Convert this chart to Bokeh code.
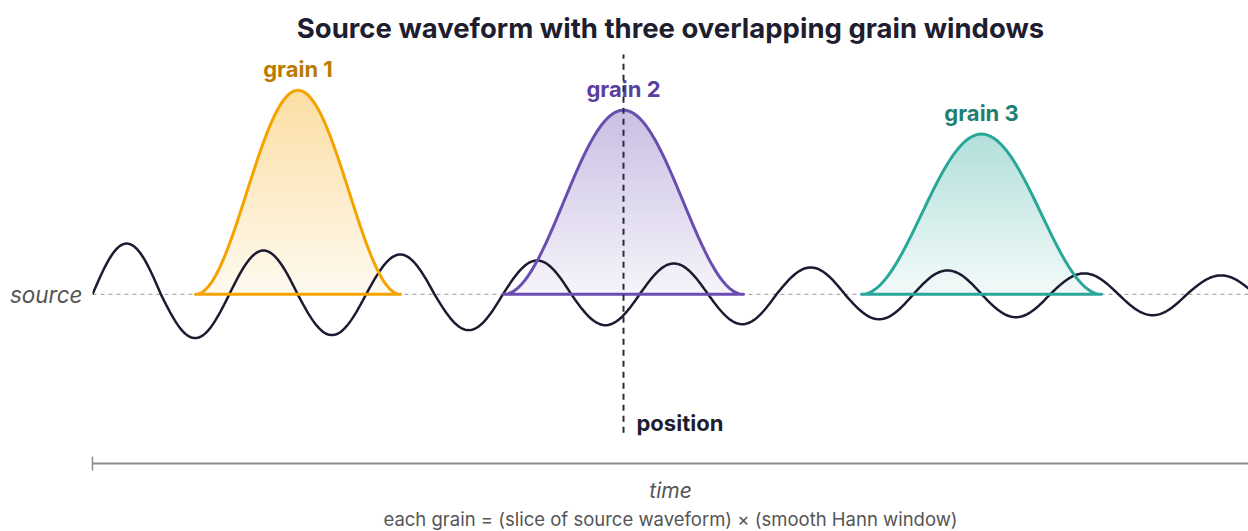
import numpy as np
from bokeh.plotting import figure
from bokeh.models import Title, LinearAxis, FixedTicker, Range1d
from bokeh.core.properties import value
from bokeh.embed import file_html
from bokeh.resources import INLINE

# ---- data (time axis in px-like units from the axis origin, amplitude above the source baseline) ----
half_period = 68.4
source_half_amplitudes = [51, 44, 44, 41, 40, 36, 34, 31, 31, 30, 27, 25, 24, 23, 21, 21, 19, 18]
grain_names = ["grain 1", "grain 2", "grain 3"]
grain_starts = [103, 411, 769]
grain_widths = [205, 240, 240]
grain_heights = [205, 185, 161]
grain_line_colors = ["#F5A300", "#6A4DB0", "#2AA79B"]
grain_label_colors = ["#B87B00", "#5B3F9E", "#1F7F75"]
grain_fill_rgb = [(245, 163, 0), (106, 77, 176), (42, 167, 155)]
position_x = 531
position_span = [-139, 241]
x_end = 1156

FONT = "Inter"
p = figure(width=1248, height=531, x_range=Range1d(0, x_end), y_range=Range1d(-170, 243),
           output_backend="svg", toolbar_location=None,
           x_axis_location=None, y_axis_location=None,
           min_border_left=92, min_border_right=0, min_border_top=50, min_border_bottom=68)
p.grid.visible = False
p.outline_line_color = None
p.background_fill_color = "white"
p.border_fill_color = "white"

p.title.text = "Source waveform with three overlapping grain windows"
p.title.align = "center"
p.title.text_font = FONT
p.title.text_font_size = "27.5px"
p.title.text_font_style = "bold"
p.title.text_color = "#1E1E30"
p.title.standoff = 16

# x axis (time)
ax = LinearAxis(ticker=FixedTicker(ticks=[0]), axis_label="time",
                axis_label_text_font=FONT, axis_label_text_font_style="italic",
                axis_label_text_font_size="21px", axis_label_text_color="#555555",
                major_label_overrides={0: ""}, major_label_text_color=None,
                major_tick_in=7, major_tick_out=7,
                axis_line_color="#8C8C8C", axis_line_width=2,
                major_tick_line_color="#8C8C8C", major_tick_line_width=1.5,
                minor_tick_line_color=None, axis_label_standoff=7, major_label_standoff=0)
p.add_layout(ax, "below")
p.add_layout(Title(text="each grain = (slice of source waveform) \u00d7 (smooth Hann window)",
                   align="center", text_font=FONT, text_font_size="18.5px", standoff=0,
                   text_font_style="normal", text_color="#555555"), "below")

# left axis used only for the "source" row label
ly_ax = LinearAxis(ticker=FixedTicker(ticks=[0]), major_label_overrides={0: "source"},
                   major_label_text_font=FONT, major_label_text_font_style="italic",
                   major_label_text_font_size="22.5px", major_label_text_color="#555555",
                   axis_line_color=None, major_tick_line_color=None, minor_tick_line_color=None,
                   major_tick_in=0, major_tick_out=0, major_label_standoff=10)
p.add_layout(ly_ax, "left")

# baseline
p.line([0, x_end], [0, 0], line_color="#9A9A9A", line_width=1, line_dash="4 4")


def mix(rgb, op):
    r, g, b = (int(round(255 * (1 - op) + c * op)) for c in rgb)
    return "#%02x%02x%02x" % (r, g, b)


# grain fills (vertical gradient, opaque blended bands drawn bottom to top)
for s, w, h, rgb in zip(grain_starts, grain_widths, grain_heights, grain_fill_rgb):
    n = 48
    for j in range(n):
        lo = h * j / n
        op = 0.06 + 0.30 * (j + 0.5) / n
        half = w / (2 * np.pi) * np.arccos(1 - 2 * lo / h)
        lx = np.linspace(s + half, s + w - half, 120)
        lyv = h * 0.5 * (1 - np.cos(2 * np.pi * (lx - s) / w))
        p.varea(lx, np.full_like(lx, lo), lyv, fill_color=mix(rgb, op), fill_alpha=1)

# source waveform: each half cycle drawn with its read amplitude
xs, ys = [], []
for k, a in enumerate(source_half_amplitudes):
    t0 = k * half_period
    if t0 > x_end:
        break
    u = np.linspace(0, 1, 40)
    sign = 1 if k % 2 == 0 else -1
    xs.extend(list(t0 + u * half_period))
    ys.extend(list(sign * a * np.sin(np.pi * u)))
xs = np.array(xs); ys = np.array(ys)
m = xs <= x_end + 5
p.line(xs[m], ys[m], line_color="#1C1A30", line_width=2.5)

# grain outlines and labels
for name, s, w, h, lc, tc in zip(grain_names, grain_starts, grain_widths, grain_heights,
                                 grain_line_colors, grain_label_colors):
    gx = np.linspace(s, s + w, 200)
    gy = h * 0.5 * (1 - np.cos(2 * np.pi * (gx - s) / w))
    ox = np.concatenate([gx, [s]])
    oy = np.concatenate([gy, [0]])
    p.line(ox, oy, line_color=lc, line_width=3, line_join="round", line_cap="round")
    p.text([s + w / 2], [h + 21], text=[name], text_font=value(FONT), text_font_size="22px",
           text_font_style="bold", text_color=tc, text_align="center", text_baseline="middle")

# position marker
p.line([position_x, position_x], position_span, line_color="#2A2A3A", line_width=2, line_dash="6 5")
p.text([position_x], [position_span[0] + 10], text=["position"], x_offset=13,
       text_font=value(FONT), text_font_size="22px", text_font_style="bold",
       text_color="#1E1E30", text_align="left", text_baseline="middle")

open("out.html", "w").write(file_html(p, INLINE))
